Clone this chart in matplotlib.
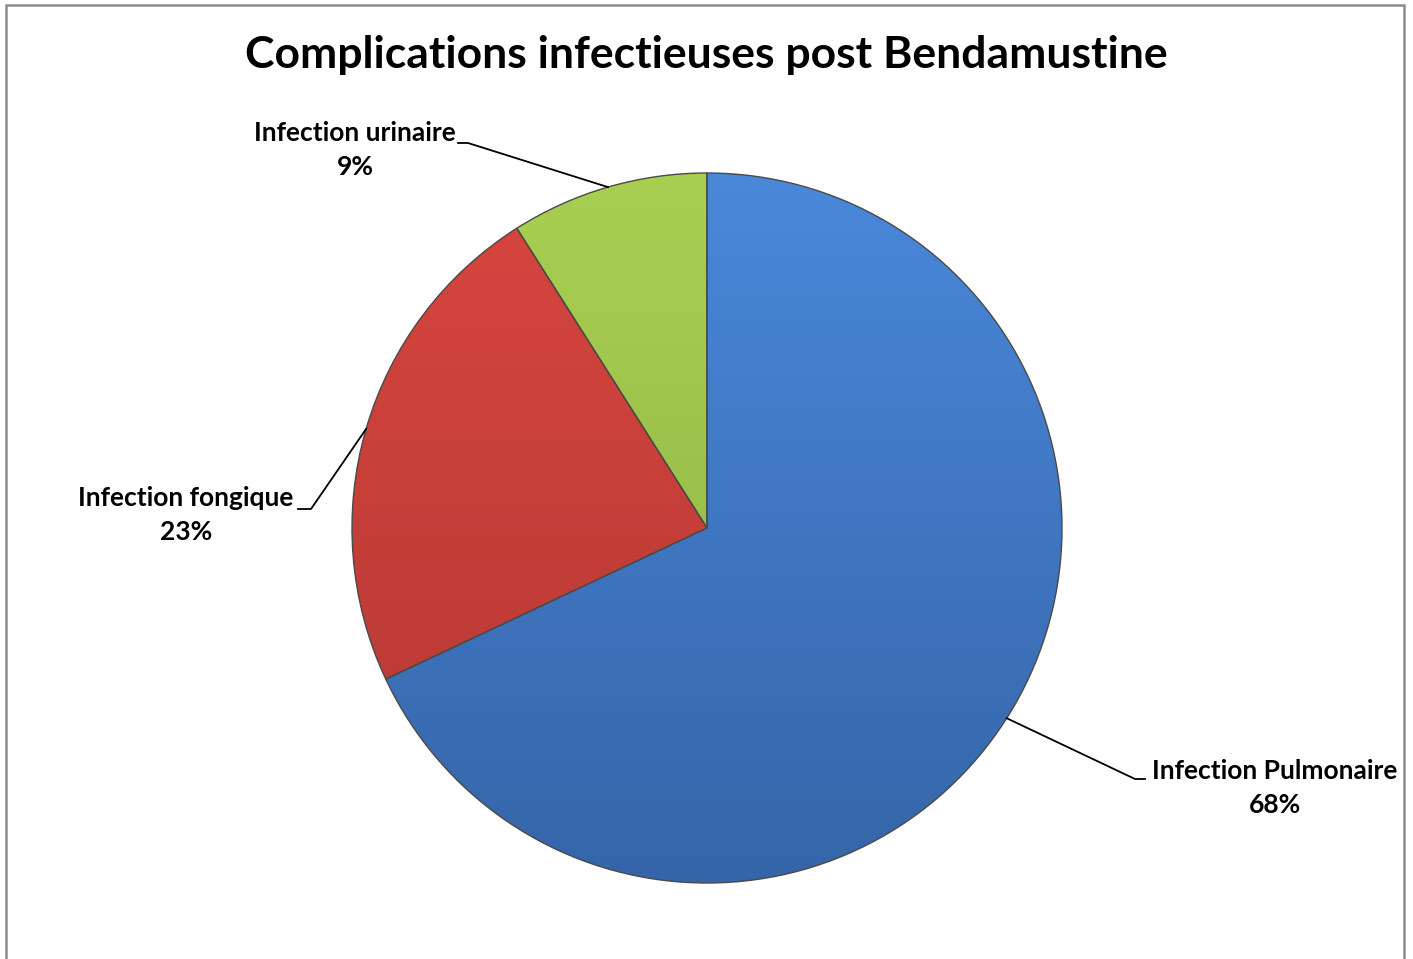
import numpy as np
import matplotlib
matplotlib.use("Agg")
import matplotlib.pyplot as plt
from matplotlib.colors import LinearSegmentedColormap
from matplotlib.patches import Rectangle

# data
categories = ["Infection Pulmonaire", "Infection fongique", "Infection urinaire"]
percents = [68, 23, 9]
title = "Complications infectieuses post Bendamustine"

# top / bottom shade of each slice (Excel-like gradient)
shades = [("#4a88da", "#3565a8"), ("#d8463f", "#b33733"), ("#a8cf52", "#8fb143")]

W, H = 1413, 959
fig = plt.figure(figsize=(W / 100, H / 100), dpi=100)
ax = fig.add_axes([0, 0, 1, 1])

cx, cy, r = 707, H - 528, 355

wedges, _ = ax.pie(percents, startangle=90, counterclock=False, center=(cx, cy),
                   radius=r, colors=[s[0] for s in shades],
                   wedgeprops=dict(linewidth=1.0, edgecolor="#4a4a4a"))

# gradient fill clipped to each wedge
grad = np.linspace(0, 1, 256).reshape(-1, 1)
for w, (top, bot) in zip(wedges, shades):
    cmap = LinearSegmentedColormap.from_list("g", [top, bot])
    im = ax.imshow(grad, cmap=cmap, aspect="auto",
                   extent=(cx - r, cx + r, cy - r, cy + r), origin="upper", zorder=1.5)
    im.set_clip_path(w)
    w.set_zorder(2)
    w.set_facecolor("none")

ax.set_xlim(0, W)
ax.set_ylim(0, H)
ax.set_aspect("equal")
ax.axis("off")

# label layout (pixel positions of text centres and leader elbows)
label_pos = [(1275, 771), (186, 498), (355, 133)]
elbows = [((1145, 779), (1135, 779)), ((298, 509), (311, 509)), ((458, 143), (468, 143))]

angle = 90.0
for name, pct, (tx, ty), (e0, e1) in zip(categories, percents, label_pos, elbows):
    mid = np.deg2rad(angle - pct * 3.6 / 2)
    angle -= pct * 3.6
    px, py = cx + r * np.cos(mid), cy + r * np.sin(mid)
    ax.plot([e0[0], e1[0], px], [H - e0[1], H - e1[1], py], color="black", lw=1.3, zorder=3)
    ax.text(tx, H - ty, name, ha="center", va="center", fontsize=19,
            fontweight="bold", family="Lato")
    ax.text(tx, H - ty - 34, f"{pct}%", ha="center", va="center", fontsize=19,
            fontweight="bold", family="Lato")

ax.text(706, H - 55, title, ha="center", va="center", fontsize=32,
        fontweight="bold", family="Lato")

# chart border
fig.patches.append(Rectangle((6 / W, -0.05), (1404 - 6) / W, (H - 5) / H + 0.05,
                             transform=fig.transFigure, fill=False,
                             edgecolor="#8c8c8c", lw=1.8))

fig.savefig("out.png", dpi=100)
